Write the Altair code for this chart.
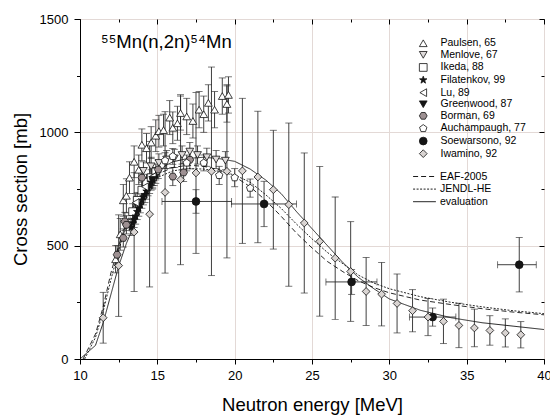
import altair as alt
import pandas as pd

FONT = "Liberation Sans"
TITLE = "⁵⁵Mn(n,2n)⁵⁴Mn"

# ---------------- evaluated curves ----------------
eval_E = [10.0, 11.0, 11.5, 12.0, 12.5, 13.0, 13.5, 14.0, 14.5, 15.0, 15.5, 16.0, 17.0, 18.0, 19.0, 20.0,
          21.0, 22.0, 23.0, 24.0, 25.0, 26.0, 27.0, 28.0, 29.0, 30.0, 32.0, 34.0, 36.0, 38.0, 40.0]
eval_s = [0, 60, 160, 285, 410, 510, 590, 690, 770, 820, 852, 870, 885, 890, 884, 872,
          838, 790, 730, 650, 575, 500, 425, 360, 310, 265, 215, 182, 160, 145, 130]

eaf_E = [10.2, 11.0, 11.5, 12.0, 12.5, 13.0, 13.5, 14.0, 14.5, 15.0, 16.0, 17.0, 18.0, 19.0, 20.0,
         21.0, 22.0, 23.0, 24.0, 25.0, 26.0, 27.0, 28.0, 29.0, 30.0, 32.0, 34.0, 36.0, 38.0, 40.0]
eaf_s = [0, 110, 230, 380, 500, 600, 680, 740, 785, 815, 845, 855, 850, 835, 805,
         760, 700, 630, 555, 490, 430, 385, 345, 315, 292, 260, 240, 222, 207, 195]

jendl_E = [10.3, 11.0, 11.5, 12.0, 12.5, 13.0, 13.5, 14.0, 14.5, 15.0, 16.0, 17.0, 18.0, 19.0, 20.0,
           21.0, 22.0, 23.0, 24.0, 25.0, 26.0, 27.0, 28.0, 29.0, 30.0, 32.0, 34.0, 36.0, 38.0, 40.0]
jendl_s = [0, 95, 210, 350, 480, 585, 665, 725, 770, 800, 830, 840, 838, 828, 812,
           780, 725, 665, 595, 530, 470, 420, 370, 335, 310, 275, 250, 230, 213, 200]

line_names = ["EAF-2005", "JENDL-HE", "evaluation"]

# ---------------- experimental data ----------------
paulsen_E = [12.3, 12.6, 12.8, 13.0, 13.2, 13.5, 13.8, 14.0, 14.3, 14.6, 14.9, 15.1, 15.4, 15.8, 16.0, 16.3,
             16.5, 16.9, 17.3, 17.7, 18.0, 18.3, 18.7, 19.2, 19.5, 19.6]
paulsen_s = [440, 550, 700, 720, 800, 870, 835, 945, 930, 955, 985, 1005, 1010, 1065, 1020, 1040,
             1085, 1070, 1050, 1100, 1080, 1130, 1100, 1160, 1125, 1165]
paulsen_err = [60, 70, 70, 75, 70, 70, 65, 70, 65, 70, 70, 70, 70, 75, 70, 75,
               75, 80, 75, 80, 80, 80, 80, 80, 80, 80]

menlove_E = [14.1, 14.6, 15.1, 15.6, 16.1, 16.6, 17.1, 17.6, 18.2, 18.8, 19.4]
menlove_s = [830, 850, 865, 880, 885, 900, 915, 900, 890, 880, 875]
menlove_err = [40, 40, 40, 40, 40, 40, 40, 40, 40, 40, 40]

ikeda_E = [13.4, 13.7, 14.0, 14.3, 14.6, 14.9]
ikeda_s = [650, 700, 745, 780, 800, 825]
ikeda_err = [35, 35, 35, 35, 35, 35]

filat_E = [13.3, 13.4, 13.5, 13.6, 13.7, 13.8, 13.9, 14.0, 14.1, 14.2, 14.3, 14.4, 14.5, 14.6, 14.7, 14.8, 14.9]
filat_s = [580, 600, 615, 630, 650, 665, 680, 700, 715, 725, 740, 755, 765, 780, 790, 800, 810]
filat_err = [35, 35, 35, 35, 35, 35, 35, 35, 35, 35, 35, 35, 35, 35, 35, 35, 35]

lu_E = [13.6, 14.2, 14.7]
lu_s = [690, 760, 805]
lu_err = [40, 40, 40]

green_E = [14.7]
green_s = [790]
green_err = [40]

borman_E = [12.4, 12.8, 12.9, 13.0, 14.0, 15.06, 16.0, 16.7, 17.1]
borman_s = [460, 534, 607, 592, 800, 836, 805, 823, 879]
borman_err = [40, 40, 40, 40, 40, 40, 40, 40, 40]

auch_E = [15.5, 16.0, 16.9, 18.0, 19.0, 20.0, 21.0]
auch_s = [875, 894, 865, 865, 810, 800, 754]
auch_err = [35, 35, 35, 35, 40, 40, 40]

soew_E = [17.5, 21.9, 27.56, 32.8, 38.4]
soew_s = [695, 684, 340, 185, 416]
soew_err = [52, 100, 55, 40, 120]
soew_Elo = [15.3, 19.8, 25.9, 31.3, 37.0]
soew_Ehi = [19.8, 24.0, 29.2, 34.3, 39.5]

iwa_E = [11.5, 12.5, 13.5, 14.5, 15.5, 16.5, 17.5, 18.5, 19.5, 20.5, 21.5, 22.5, 23.5, 24.5, 25.5, 26.5,
         27.5, 28.5, 29.5, 30.5, 31.5, 32.5, 33.5, 34.5, 35.5, 36.5, 37.5, 38.5]
iwa_s = [182, 412, 560, 639, 735, 791, 821, 828, 828, 830, 803, 747, 681, 600, 519, 445,
         386, 298, 286, 245, 213, 185, 166, 148, 137, 126, 115, 107]
iwa_err = [112, 224, 262, 321, 356, 375, 355, 460, 382, 320, 290, 262, 360, 309, 330, 270,
           220, 150, 140, 130, 93, 82, 98, 98, 83, 65, 62, 58]

ds_names = ["Paulsen, 65", "Menlove, 67", "Ikeda, 88", "Filatenkov, 99", "Lu, 89", "Greenwood, 87",
            "Borman, 69", "Auchampaugh, 77", "Soewarsono, 92", "Iwamino, 92"]

STAR = "M0,-1L0.235,-0.324L0.951,-0.309L0.380,0.124L0.588,0.809L0,0.4L-0.588,0.809L-0.380,0.124L-0.951,-0.309L-0.235,-0.324Z"
HEX = "M-0.5,-0.866L0.5,-0.866L1,0L0.5,0.866L-0.5,0.866L-1,0Z"
PENT = "M0,-1L0.951,-0.309L0.588,0.809L-0.588,0.809L-0.951,-0.309Z"
LONG_STROKE = "M-2,0L2,0"
ds_shapes = ["triangle-up", "triangle-down", "square", STAR, "triangle-left", "triangle-down",
             HEX, PENT, "circle", "diamond"]
ds_fills = ["white", "#dedada", "white", "#151515", "white", "#151515",
            "#9d9092", "white", "#151515", "#d9d4d2"]
ds_strokes = ["#111111"] * 10
ds_sizes = [60, 60, 30, 70, 48, 60, 55, 55, 45, 140]

# ---------------- build tables ----------------
sets = [
    (paulsen_E, paulsen_s, paulsen_err),
    (menlove_E, menlove_s, menlove_err),
    (ikeda_E, ikeda_s, ikeda_err),
    (filat_E, filat_s, filat_err),
    (lu_E, lu_s, lu_err),
    (green_E, green_s, green_err),
    (borman_E, borman_s, borman_err),
    (auch_E, auch_s, auch_err),
    (soew_E, soew_s, soew_err),
    (iwa_E, iwa_s, iwa_err),
]
rows = []
for name, (E, s, err) in zip(ds_names, sets):
    for e, v, d in zip(E, s, err):
        rows.append({"ds": name, "E": e, "s": v, "lo": v - d, "hi": v + d})
pts = pd.DataFrame(rows)
caps = pd.concat([pts[["E", "lo"]].rename(columns={"lo": "c"}),
                  pts[["E", "hi"]].rename(columns={"hi": "c"})])

hbar = pd.DataFrame({"s": soew_s, "Elo": soew_Elo, "Ehi": soew_Ehi})
hcaps = pd.concat([hbar[["s", "Elo"]].rename(columns={"Elo": "c"}),
                   hbar[["s", "Ehi"]].rename(columns={"Ehi": "c"})])

lines = pd.concat([
    pd.DataFrame({"series": "EAF-2005", "E": eaf_E, "s": eaf_s}),
    pd.DataFrame({"series": "JENDL-HE", "E": jendl_E, "s": jendl_s}),
    pd.DataFrame({"series": "evaluation", "E": eval_E, "s": eval_s}),
])

xs = alt.Scale(domain=[10, 40], nice=False, zero=False)
ys = alt.Scale(domain=[0, 1500], nice=False, zero=True)

X = lambda f: alt.X(f, type="quantitative", scale=xs, axis=None)
Y = lambda f: alt.Y(f, type="quantitative", scale=ys, axis=None)

ERR = "#2a2a2a"
vrule = alt.Chart(pts).mark_rule(color=ERR, strokeWidth=0.9).encode(
    x=X("E"), y=Y("lo"), y2="hi")
vcap = alt.Chart(caps).mark_tick(orient="horizontal", color=ERR, size=7, thickness=0.9).encode(
    x=X("E"), y=Y("c"))
hrule = alt.Chart(hbar).mark_rule(color=ERR, strokeWidth=0.9).encode(
    x=X("Elo"), x2="Ehi", y=Y("s"))
hcap = alt.Chart(hcaps).mark_tick(orient="vertical", color=ERR, size=7, thickness=0.9).encode(
    x=X("c"), y=Y("s"))

leg_lines = alt.Legend(orient="none", legendX=338, legendY=151, title=None,
                       labelFontSize=10.5, labelFont=FONT, labelColor="black",
                       symbolType=LONG_STROKE, symbolSize=130, symbolStrokeColor="black",
                       rowPadding=0.6, labelOffset=9, padding=0)
curves = alt.Chart(lines).mark_line(color="#111111").encode(
    x=X("E"), y=Y("s"),
    strokeDash=alt.StrokeDash("series:N", scale=alt.Scale(domain=line_names,
                              range=[[5, 3], [2, 1.5], [1, 0]]), legend=leg_lines),
    strokeWidth=alt.StrokeWidth("series:N", scale=alt.Scale(domain=line_names,
                                range=[0.9, 0.9, 2.2]), legend=leg_lines),
)

leg_pts = alt.Legend(orient="none", legendX=338, legendY=19, title=None,
                     labelFontSize=10.5, labelFont=FONT, labelColor="black",
                     symbolStrokeWidth=0.8,
                     rowPadding=0.6, labelOffset=12, padding=0)
points = alt.Chart(pts).mark_point(filled=True, opacity=1, strokeWidth=0.8).encode(
    x=X("E"), y=Y("s"),
    shape=alt.Shape("ds:N", scale=alt.Scale(domain=ds_names, range=ds_shapes), legend=leg_pts),
    fill=alt.Fill("ds:N", scale=alt.Scale(domain=ds_names, range=ds_fills), legend=leg_pts),
    stroke=alt.Stroke("ds:N", scale=alt.Scale(domain=ds_names, range=ds_strokes), legend=leg_pts),
    size=alt.Size("ds:N", scale=alt.Scale(domain=ds_names, range=ds_sizes), legend=leg_pts),
)

title = alt.Chart(alt.Data(values=[{"t": TITLE}])).mark_text(
    align="left", baseline="alphabetic", fontSize=18.5, font=FONT, color="black").encode(
    x=alt.value(21), y=alt.value(29), text="t:N")

# ---------------- axes ----------------
ax_data = alt.Data(values=[{"v": 20}])
major_x = [10, 15, 20, 25, 30, 35, 40]
minor_x = [12.5, 17.5, 22.5, 27.5, 32.5, 37.5]
major_y = [0, 500, 1000, 1500]
minor_y = [250, 750, 1250]
GRID = "#e3d9d6"

def xaxis(**kw):
    return alt.Chart(ax_data).mark_point(opacity=0).encode(
        x=alt.X("v:Q", scale=xs, axis=alt.Axis(**kw)))

def yaxis(**kw):
    return alt.Chart(ax_data).mark_point(opacity=0).encode(
        y=alt.Y("v:Q", scale=ys, axis=alt.Axis(**kw)))

axes = [
    xaxis(orient="bottom", values=major_x, title="Neutron energy [MeV]", grid=True, gridColor=GRID,
          gridWidth=1, tickSize=5, labelPadding=5, labelFontSize=13, titleFontSize=18.5,
          titlePadding=13, labelFlush=False, titleFontWeight="normal", format="d"),
    xaxis(orient="bottom", values=minor_x, title=None, grid=False, labels=False, tickSize=3, domain=False),
    xaxis(orient="top", values=major_x, title=None, grid=False, labels=False, tickSize=5, domain=False, offset=-5),
    xaxis(orient="top", values=minor_x, title=None, grid=False, labels=False, tickSize=3, domain=False, offset=-3),
    yaxis(orient="left", values=major_y, title="Cross section [mb]", grid=True, gridColor=GRID,
          gridWidth=1, tickSize=6, labelPadding=6, labelFontSize=13, titleFontSize=18.5,
          titlePadding=9, labelFlush=False, titleFontWeight="normal", format="d"),
    yaxis(orient="left", values=minor_y, title=None, grid=False, labels=False, tickSize=3.5, domain=False),
    yaxis(orient="right", values=major_y, title=None, grid=False, labels=False, tickSize=5, domain=False, offset=-5),
    yaxis(orient="right", values=minor_y, title=None, grid=False, labels=False, tickSize=3, domain=False, offset=-3),
]

chart = alt.layer(*axes, vrule, vcap, hrule, hcap, curves, points, title).resolve_axis(
    x="independent", y="independent"
).properties(
    width=464, height=340,
    padding={"left": 80, "top": 19, "right": 6, "bottom": 58},
    autosize=alt.AutoSizeParams(type="none"),
).configure_view(stroke="black", strokeWidth=1).configure_axis(
    labelFont=FONT, titleFont=FONT, labelColor="black", titleColor="black",
    tickColor="black", domainColor="black", tickWidth=1, domainWidth=1,
)

chart.save("out.html", embed_options={"renderer": "svg", "actions": False})
